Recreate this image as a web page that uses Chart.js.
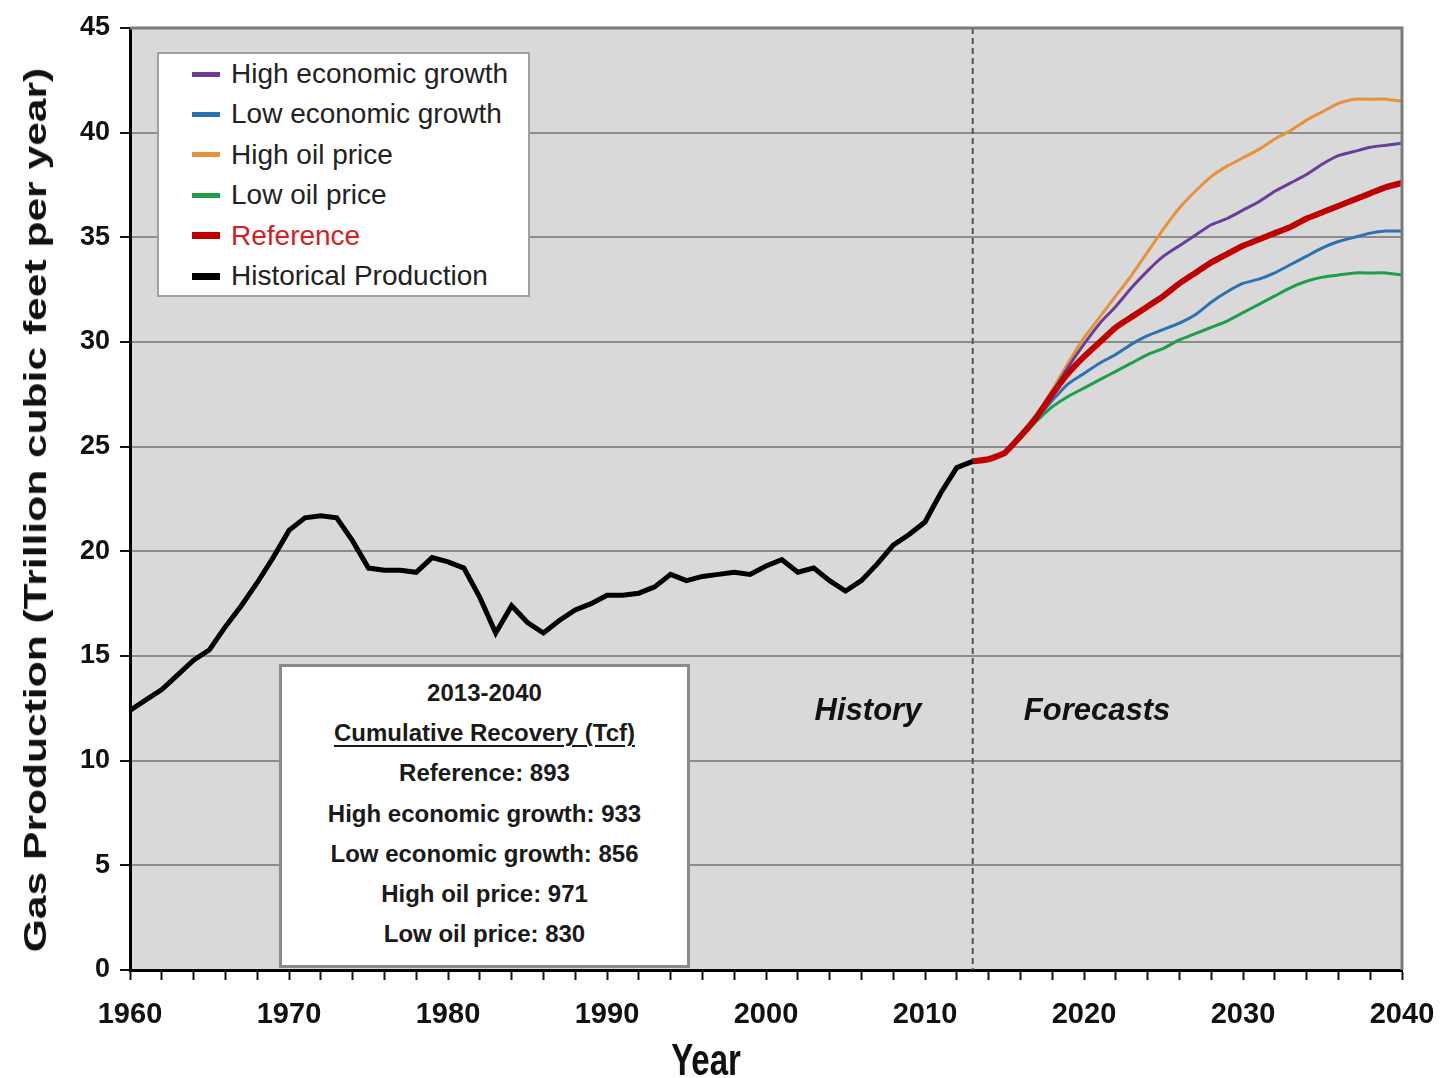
<!DOCTYPE html>
<html>
<head>
<meta charset="utf-8">
<title>Gas Production</title>
<script src="https://cdn.jsdelivr.net/npm/chart.js@4.4.1/dist/chart.umd.min.js"></script>
<style>
    body { margin: 0; background: #fff; }
    #wrap { position: relative; width: 1441px; height: 1078px; }
    .legend {
        position: absolute; left: 157px; top: 52px; width: 369px; height: 241px;
        background: #fff; border: 2px solid #a0a0a0;
        font-family: "Liberation Sans", Arial, sans-serif; font-size: 28px; color: #222;
    }
    .legend .row { position: absolute; left: 0; height: 40px; width: 100%; }
    .legend .swatch { position: absolute; left: 33px; top: 18px; width: 28px; height: 5px; }
    .legend .label { position: absolute; left: 72px; top: 4px; white-space: nowrap; line-height: 32px; }
    .recovery {
        position: absolute; left: 279px; top: 664px; width: 405px; height: 292px;
        background: #fff; border: 3px solid #8a8a8a; text-align: center;
        font-family: "Liberation Sans", Arial, sans-serif; font-weight: bold; font-size: 24px; color: #1a1a1a;
        padding-top: 6px; box-sizing: content-box;
    }
    .recovery div { line-height: 40.2px; white-space: nowrap; }
    .recovery u { text-underline-offset: 4px; text-decoration-thickness: 2px; }
    .zone {
        position: absolute; top: 692px; font-family: "Liberation Sans", Arial, sans-serif;
        font-weight: bold; font-style: italic; font-size: 31px; color: #111; transform: translateX(-50%);
    }
    .axis-title {
        position: absolute; font-family: "Liberation Sans", Arial, sans-serif; font-weight: bold;
        color: #111; white-space: nowrap; line-height: 1;
    }
    #yTitle { left: 35px; top: 510px; font-size: 32px; transform: translate(-50%, -50%) rotate(-90deg) scaleX(1.33); }
    #xTitle { left: 706px; top: 1060px; font-size: 44px; transform: translate(-50%, -50%) scaleX(0.75); }
</style>
</head>
<body>
<div id="wrap">
    <canvas id="gasChart"></canvas>
    <div class="legend" id="legend"></div>
    <div class="recovery" id="recovery"></div>
    <div class="zone" style="left:868px">History</div>
    <div class="zone" style="left:1097px">Forecasts</div>
    <div class="axis-title" id="yTitle">Gas Production (Trillion cubic feet per year)</div>
    <div class="axis-title" id="xTitle">Year</div>
</div>
<script>
// Historical production, 1960-2013 (Tcf per year)
const histStart = 1960;
const histValues = [
    12.4, 12.9, 13.4, 14.1, 14.8, 15.3, 16.4, 17.4, 18.5, 19.7,
    21.0, 21.6, 21.7, 21.6, 20.5, 19.2, 19.1, 19.1, 19.0, 19.7,
    19.5, 19.2, 17.8, 16.1, 17.4, 16.6, 16.1, 16.7, 17.2, 17.5,
    17.9, 17.9, 18.0, 18.3, 18.9, 18.6, 18.8, 18.9, 19.0, 18.9,
    19.3, 19.6, 19.0, 19.2, 18.6, 18.1, 18.6, 19.4, 20.3, 20.8,
    21.4, 22.8, 24.0, 24.3
];

// Forecast scenarios, 2013-2040
const fcStart = 2013;
const referenceCase = [
    24.3, 24.4, 24.7, 25.5, 26.4, 27.5, 28.5, 29.3, 30.0, 30.7,
    31.2, 31.7, 32.2, 32.8, 33.3, 33.8, 34.2, 34.6, 34.9, 35.2,
    35.5, 35.9, 36.2, 36.5, 36.8, 37.1, 37.4, 37.6
];
const highEconGrowth = [
    24.3, 24.4, 24.7, 25.5, 26.5, 27.6, 28.8, 29.9, 30.9, 31.7,
    32.6, 33.4, 34.1, 34.6, 35.1, 35.6, 35.9, 36.3, 36.7, 37.2,
    37.6, 38.0, 38.5, 38.9, 39.1, 39.3, 39.4, 39.5
];
const lowEconGrowth = [
    24.3, 24.4, 24.7, 25.4, 26.3, 27.2, 28.0, 28.5, 29.0, 29.4,
    29.9, 30.3, 30.6, 30.9, 31.3, 31.9, 32.4, 32.8, 33.0, 33.3,
    33.7, 34.1, 34.5, 34.8, 35.0, 35.2, 35.3, 35.3
];
const highOilPrice = [
    24.3, 24.4, 24.7, 25.5, 26.5, 27.7, 29.0, 30.2, 31.2, 32.2,
    33.2, 34.3, 35.4, 36.4, 37.2, 37.9, 38.4, 38.8, 39.2, 39.7,
    40.1, 40.6, 41.0, 41.4, 41.6, 41.6, 41.6, 41.5
];
const lowOilPrice = [
    24.3, 24.4, 24.7, 25.4, 26.2, 26.9, 27.4, 27.8, 28.2, 28.6,
    29.0, 29.4, 29.7, 30.1, 30.4, 30.7, 31.0, 31.4, 31.8, 32.2,
    32.6, 32.9, 33.1, 33.2, 33.3, 33.3, 33.3, 33.2
];

const legendLabels = ['High economic growth', 'Low economic growth', 'High oil price', 'Low oil price', 'Reference', 'Historical Production'];
const legendColors = ['#6a3d9a', '#2c72b0', '#e8913a', '#1e9e4a', '#c00000', '#000000'];

const recoveryLines = [
    '2013-2040',
    'Cumulative Recovery (Tcf)',
    'Reference: 893',
    'High economic growth: 933',
    'Low economic growth: 856',
    'High oil price: 971',
    'Low oil price: 830'
];

const dividerYear = 2013;

function toPoints(start, values) {
    return values.map((v, i) => ({ x: start + i, y: v }));
}

// Legend
const legendEl = document.getElementById('legend');
legendLabels.forEach((label, i) => {
    const row = document.createElement('div');
    row.className = 'row';
    row.style.top = (i * 40.4) + 'px';
    const thick = (i >= 4) ? 7 : 5;
    row.innerHTML = `<span class="swatch" style="background:${legendColors[i]};height:${thick}px;top:${20 - thick / 2}px"></span>` +
        `<span class="label" style="color:${label === 'Reference' ? '#d42020' : '#222'}">${label}</span>`;
    legendEl.appendChild(row);
});

// Recovery box
const recEl = document.getElementById('recovery');
recoveryLines.forEach((t, i) => {
    const d = document.createElement('div');
    d.innerHTML = i === 1 ? `<u>${t}</u>` : t;
    recEl.appendChild(d);
});

// Plot background, frame and history/forecast divider
const framePlugin = {
    id: 'frame',
    beforeDraw(chart) {
        const { ctx, chartArea: a } = chart;
        ctx.save();
        ctx.fillStyle = '#d9d9d9';
        ctx.fillRect(a.left, a.top, a.right - a.left, a.bottom - a.top);
        ctx.restore();
    },
    beforeDatasetsDraw(chart) {
        const { ctx, chartArea: a, scales } = chart;
        const x = scales.x.getPixelForValue(dividerYear);
        ctx.save();
        ctx.strokeStyle = '#555';
        ctx.lineWidth = 2;
        ctx.setLineDash([6, 4]);
        ctx.beginPath();
        ctx.moveTo(x, a.top);
        ctx.lineTo(x, a.bottom);
        ctx.stroke();
        ctx.restore();
    },
    afterDraw(chart) {
        const { ctx, chartArea: a } = chart;
        ctx.save();
        ctx.strokeStyle = '#7a7a7a';
        ctx.lineWidth = 3;
        ctx.beginPath();
        ctx.moveTo(a.left, a.top);
        ctx.lineTo(a.right, a.top);
        ctx.lineTo(a.right, a.bottom);
        ctx.stroke();
        ctx.restore();
    }
};

const lineDefaults = { pointRadius: 0, fill: false, tension: 0.15 };

new Chart(document.getElementById('gasChart'), {
    type: 'line',
    data: {
        datasets: [
            { ...lineDefaults, label: 'Historical Production', data: toPoints(histStart, histValues), borderColor: '#000', borderWidth: 5, tension: 0 },
            { ...lineDefaults, label: 'Reference', data: toPoints(fcStart, referenceCase), borderColor: '#c00000', borderWidth: 6 },
            { ...lineDefaults, label: 'High economic growth', data: toPoints(fcStart, highEconGrowth), borderColor: '#6a3d9a', borderWidth: 3 },
            { ...lineDefaults, label: 'Low economic growth', data: toPoints(fcStart, lowEconGrowth), borderColor: '#2c72b0', borderWidth: 3 },
            { ...lineDefaults, label: 'Low oil price', data: toPoints(fcStart, lowOilPrice), borderColor: '#1e9e4a', borderWidth: 3 },
            { ...lineDefaults, label: 'High oil price', data: toPoints(fcStart, highOilPrice), borderColor: '#e8913a', borderWidth: 3 }
        ]
    },
    options: {
        responsive: true,
        maintainAspectRatio: false,
        animation: false,
        layout: { padding: { left: 0, right: 39, top: 28, bottom: 0 } },
        plugins: { legend: { display: false }, tooltip: { enabled: false } },
        scales: {
            x: {
                type: 'linear',
                min: 1960,
                max: 2040,
                afterFit: s => { s.height = 108; s.paddingRight = 0; s.paddingLeft = 0; },
                border: { color: '#000', width: 3 },
                grid: { drawOnChartArea: false, drawTicks: true, tickLength: 10, tickColor: '#111', tickWidth: 2 },
                ticks: {
                    stepSize: 2,
                    autoSkip: false,
                    maxRotation: 0,
                    padding: 18,
                    color: '#111',
                    font: { family: '"Liberation Sans", Arial', size: 29, weight: 'bold' },
                    callback: v => (v % 10 === 0 ? String(v) : '')
                }
            },
            y: {
                min: 0,
                max: 45,
                afterFit: s => { s.width = 130; },
                border: { color: '#000', width: 3 },
                grid: { color: '#8c8c8c', lineWidth: 2, drawTicks: true, tickLength: 10, tickColor: '#111', tickWidth: 2 },
                ticks: {
                    stepSize: 5,
                    padding: 10,
                    color: '#111',
                    font: { family: '"Liberation Sans", Arial', size: 27, weight: 'bold' }
                }
            }
        }
    },
    plugins: [framePlugin]
});
</script>
</body>
</html>
